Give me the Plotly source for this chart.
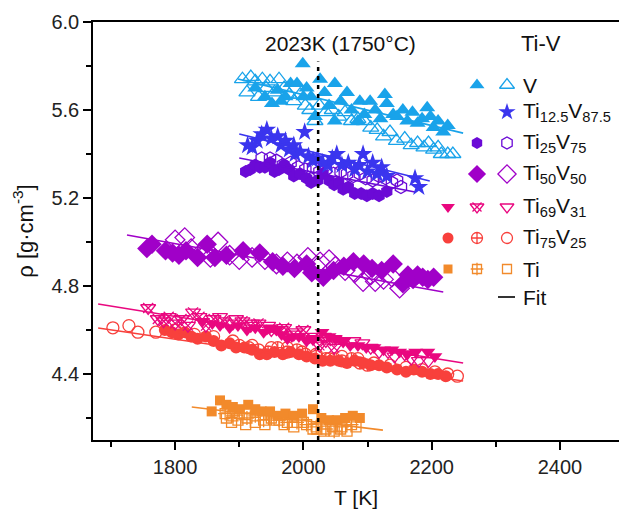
import plotly.graph_objects as go

# ---------------- data ----------------
V_filled_T = [1925, 1940, 1951, 1960, 1972, 1980, 1990, 1999, 2005, 2012, 2018, 2026, 2033, 2040, 2049, 2049,
              2058, 2068, 2075, 2088, 2095, 2104, 2112, 2120, 2127, 2130, 2140, 2146, 2155, 2162, 2170, 2178,
              2185, 2193, 2198, 2203, 2210, 2218, 2225, 1965, 2000, 2085]
V_filled_rho = [5.70, 5.66, 5.63, 5.69, 5.66, 5.72, 5.72, 5.81, 5.70, 5.66, 5.57, 5.74, 5.68, 5.62, 5.72, 5.55,
                5.64, 5.68, 5.60, 5.64, 5.58, 5.64, 5.60, 5.56, 5.67, 5.63, 5.58, 5.57, 5.60, 5.55, 5.59, 5.54,
                5.56, 5.61, 5.57, 5.52, 5.55, 5.50, 5.53, 5.64, 5.66, 5.55]
V_open_T = [1905, 1912, 1918, 1925, 1930, 1936, 1942, 1948, 1955, 1962, 1970, 1978, 1985, 1995, 2003, 2010,
            2018, 2025, 2035, 2045, 2055, 2065, 2075, 2085, 2095, 2105, 2115, 2125, 2135, 2145, 2158, 2168,
            2178, 2188, 2195, 2203, 2210, 2215, 2225, 2233]
V_open_rho = [5.74, 5.68, 5.75, 5.73, 5.66, 5.74, 5.70, 5.73, 5.68, 5.74, 5.70, 5.67, 5.64, 5.67, 5.62, 5.60,
              5.55, 5.62, 5.59, 5.60, 5.57, 5.59, 5.55, 5.56, 5.55, 5.52, 5.51, 5.48, 5.50, 5.46, 5.47, 5.44,
              5.45, 5.43, 5.45, 5.42, 5.43, 5.40, 5.40, 5.40]

Ti125_T = [1913, 1920, 1928, 1935, 1943, 1950, 1960, 1965, 1972, 1978, 1985, 1987, 1995, 2002, 2008, 2015,
           2022, 2030, 2038, 2045, 2052, 2060, 2070, 2080, 2087, 2093, 2100, 2108, 2115, 2122, 2130, 2174, 2180]
Ti125_rho = [5.44, 5.43, 5.46, 5.49, 5.51, 5.47, 5.48, 5.44, 5.46, 5.42, 5.44, 5.40, 5.41, 5.50, 5.39, 5.37,
             5.38, 5.36, 5.35, 5.38, 5.40, 5.35, 5.36, 5.33, 5.35, 5.40, 5.32, 5.36, 5.31, 5.34, 5.30, 5.29, 5.25]

Ti25_filled_T = [1910, 1917, 1925, 1932, 1940, 1948, 1955, 1962, 1970, 1978, 1985, 1995, 2005, 2012, 2022,
                 2030, 2040, 2048, 2055, 2062, 2070, 2080, 2090, 2099, 2108, 2118, 2130]
Ti25_filled_rho = [5.32, 5.33, 5.35, 5.34, 5.34, 5.36, 5.32, 5.33, 5.35, 5.33, 5.30, 5.31, 5.29, 5.27, 5.28,
                   5.31, 5.28, 5.26, 5.27, 5.24, 5.25, 5.22, 5.22, 5.21, 5.22, 5.21, 5.23]
Ti25_open_T = [1935, 1948, 1958, 1968, 1980, 1992, 2003, 2015, 2025, 2035, 2047, 2058, 2068, 2078, 2088,
               2097, 2108, 2118, 2128, 2138, 2146, 2152]
Ti25_open_rho = [5.38, 5.38, 5.37, 5.35, 5.36, 5.34, 5.33, 5.34, 5.32, 5.33, 5.31, 5.32, 5.31, 5.30, 5.31,
                 5.29, 5.28, 5.30, 5.29, 5.27, 5.28, 5.25]

Ti50_filled_T = [1756, 1764, 1785, 1796, 1806, 1817, 1835, 1850, 1862, 1880, 1906, 1932, 1952, 1968, 1986,
                 2005, 2013, 2031, 2047, 2063, 2078, 2094, 2107, 2122, 2140, 2155, 2163, 2171, 2178, 2186,
                 2194, 2203]
Ti50_filled_rho = [4.97, 4.99, 4.96, 4.95, 4.94, 4.96, 4.93, 4.99, 4.93, 4.94, 4.96, 4.95, 4.91, 4.89, 4.88,
                   4.90, 4.86, 4.84, 4.87, 4.89, 4.91, 4.90, 4.88, 4.87, 4.90, 4.81, 4.85, 4.83, 4.85, 4.84,
                   4.83, 4.84]
Ti50_open_T = [1800, 1815, 1825, 1840, 1855, 1867, 1885, 1900, 1920, 1940, 1958, 1975, 1990, 2007, 2026,
               2040, 2050, 2065, 2080, 2093, 2105, 2112, 2125, 2138, 2150]
Ti50_open_rho = [5.01, 5.02, 4.97, 4.95, 4.93, 5.00, 4.94, 4.92, 4.93, 4.92, 4.90, 4.91, 4.90, 4.93, 4.91,
                 4.92, 4.89, 4.87, 4.86, 4.82, 4.85, 4.82, 4.83, 4.84, 4.79]

Ti69_filled_T = [1843, 1858, 1870, 1885, 1898, 1912, 1925, 1938, 1948, 1958, 1966, 1975, 1982, 1993, 2005,
                 2015, 2029, 2040, 2050, 2062, 2073, 2085, 2098, 2110, 2125, 2138, 2150, 2162, 2175, 2194, 2205]
Ti69_filled_rho = [4.64, 4.63, 4.62, 4.61, 4.62, 4.60, 4.61, 4.59, 4.61, 4.60, 4.58, 4.56, 4.57, 4.57, 4.55,
                   4.56, 4.59, 4.57, 4.56, 4.55, 4.53, 4.53, 4.52, 4.52, 4.51, 4.51, 4.50, 4.49, 4.50, 4.50, 4.48]
Ti69_cross_T = [1758, 1773, 1782, 1790, 1800, 1810, 1820, 1828, 1838, 1848, 1860, 1875, 1890, 1905, 1918,
                1930, 1950, 1970, 1985, 2000, 2015, 2025, 2035, 2048]
Ti69_cross_rho = [4.70, 4.65, 4.64, 4.66, 4.63, 4.65, 4.62, 4.68, 4.66, 4.62, 4.65, 4.64, 4.63, 4.64, 4.62,
                  4.63, 4.60, 4.61, 4.58, 4.60, 4.56, 4.53, 4.55, 4.52]
Ti69_open_T = [1870, 1895, 1920, 1945, 1965, 1988, 2010, 2032, 2048, 2062, 2078, 2092, 2105, 2118, 2132,
               2142, 2158, 2168, 2180, 2195]
Ti69_open_rho = [4.66, 4.65, 4.63, 4.62, 4.60, 4.59, 4.57, 4.57, 4.56, 4.55, 4.55, 4.54, 4.52, 4.50, 4.50,
                 4.48, 4.49, 4.47, 4.46, 4.46]

Ti75_filled_T = [1784, 1795, 1805, 1815, 1825, 1835, 1848, 1860, 1872, 1885, 1895, 1908, 1920, 1932, 1943,
                 1955, 1968, 1980, 1993, 2005, 2018, 2030, 2042, 2055, 2068, 2080, 2093, 2105, 2118, 2130,
                 2146, 2160, 2172, 2185, 2198, 2210, 2222]
Ti75_filled_rho = [4.60, 4.59, 4.58, 4.59, 4.57, 4.56, 4.57, 4.55, 4.53, 4.54, 4.52, 4.52, 4.51, 4.49, 4.49,
                   4.50, 4.49, 4.50, 4.49, 4.48, 4.47, 4.46, 4.46, 4.46, 4.45, 4.46, 4.45, 4.44, 4.44, 4.43,
                   4.42, 4.41, 4.42, 4.41, 4.40, 4.40, 4.39]
Ti75_cross_T = [1900, 1915, 1930, 1945, 1960, 1975, 1990, 2003, 2020, 2035, 2048, 2060, 2075, 2088, 2100]
Ti75_cross_rho = [4.53, 4.52, 4.51, 4.50, 4.52, 4.50, 4.51, 4.49, 4.48, 4.47, 4.47, 4.46, 4.47, 4.45, 4.44]
Ti75_open_T = [1703, 1728, 1742, 1770, 1800, 1830, 1860, 1890, 1920, 1950, 1975, 1998, 2020, 2040, 2060,
               2085, 2110, 2135, 2160, 2185, 2205, 2225, 2240]
Ti75_open_rho = [4.61, 4.62, 4.59, 4.59, 4.60, 4.58, 4.57, 4.55, 4.53, 4.52, 4.52, 4.50, 4.49, 4.47, 4.48,
                 4.47, 4.45, 4.44, 4.43, 4.42, 4.41, 4.40, 4.39]

Ti_filled_T = [1857, 1870, 1880, 1890, 1900, 1914, 1925, 1935, 1948, 1960, 1972, 1985, 1998, 2015, 2028,
               2040, 2052, 2065, 2077, 2088]
Ti_filled_rho = [4.23, 4.28, 4.26, 4.25, 4.24, 4.26, 4.24, 4.23, 4.23, 4.21, 4.22, 4.21, 4.22, 4.24, 4.20,
                 4.19, 4.19, 4.20, 4.21, 4.20]
Ti_cross_T = [1878, 1890, 1900, 1912, 1925, 1938, 1950, 1962, 1975, 1990, 2005, 2020, 2035, 2048, 2060, 2075]
Ti_cross_rho = [4.22, 4.21, 4.22, 4.20, 4.21, 4.19, 4.20, 4.19, 4.18, 4.18, 4.17, 4.16, 4.15, 4.14, 4.16, 4.17]
Ti_open_T = [1880, 1888, 1898, 1910, 1925, 1940, 1955, 1970, 1985, 2000, 2015, 2021, 2032, 2045, 2058, 2068, 2082]
Ti_open_rho = [4.20, 4.18, 4.19, 4.17, 4.18, 4.17, 4.19, 4.17, 4.16, 4.18, 4.15, 4.15, 4.14, 4.16, 4.15, 4.14, 4.16]

# linear fits: [T_start, T_end], [rho_start, rho_end]
fit_V = ([1898, 2249], [5.741, 5.495])
fit_Ti125 = ([1900, 2197], [5.491, 5.277])
fit_Ti25 = ([1900, 2174], [5.382, 5.227])
fit_Ti50 = ([1725, 2218], [5.032, 4.773])
fit_Ti69 = ([1680, 2249], [4.718, 4.450])
fit_Ti75 = ([1680, 2249], [4.609, 4.368])
fit_Ti = ([1826, 2124], [4.250, 4.145])

T_melt = 2023
legend_labels = ["V", "Ti<sub>12.5</sub>V<sub>87.5</sub>", "Ti<sub>25</sub>V<sub>75</sub>",
                 "Ti<sub>50</sub>V<sub>50</sub>", "Ti<sub>69</sub>V<sub>31</sub>",
                 "Ti<sub>75</sub>V<sub>25</sub>", "Ti", "Fit"]

# ---------------- styling ----------------
C_V = "#19A3EA"
C_125 = "#3A35EE"
C_25 = "#6B0AD6"
C_50 = "#A000C8"
C_69 = "#E9077F"
C_75 = "#F8403C"
C_Ti = "#F28A2B"
FONT = "Liberation Sans, Arial, sans-serif"

fig = go.Figure()


def pts(T, r, color, symbol, size, lw=1.3):
    fig.add_trace(go.Scatter(x=T, y=r, mode="markers", cliponaxis=False,
                             marker=dict(symbol=symbol, size=size, color=color,
                                         line=dict(color=color, width=lw))))


def fit(f, color):
    fig.add_trace(go.Scatter(x=f[0], y=f[1], mode="lines", line=dict(color=color, width=1.6)))


# Ti
pts(Ti_open_T, Ti_open_rho, C_Ti, "square-open", 10)
pts(Ti_cross_T, Ti_cross_rho, C_Ti, "square-open", 10)
pts(Ti_cross_T, Ti_cross_rho, C_Ti, "cross-thin-open", 10)
pts(Ti_filled_T, Ti_filled_rho, C_Ti, "square", 10, 0)
fit(fit_Ti, C_Ti)
# Ti75V25
pts(Ti75_open_T, Ti75_open_rho, C_75, "circle-open", 12)
pts(Ti75_cross_T, Ti75_cross_rho, C_75, "circle-cross-open", 12)
pts(Ti75_filled_T, Ti75_filled_rho, C_75, "circle", 12, 0)
fit(fit_Ti75, C_75)
# Ti69V31
pts(Ti69_open_T, Ti69_open_rho, C_69, "triangle-down-open", 13)
pts(Ti69_cross_T, Ti69_cross_rho, C_69, "triangle-down-open", 13)
pts(Ti69_cross_T, Ti69_cross_rho, C_69, "x-thin-open", 10)
pts(Ti69_filled_T, Ti69_filled_rho, C_69, "triangle-down", 13, 0)
fit(fit_Ti69, C_69)
# Ti50V50
pts(Ti50_open_T, Ti50_open_rho, C_50, "diamond-open", 15)
pts(Ti50_filled_T, Ti50_filled_rho, C_50, "diamond", 15, 0)
fit(fit_Ti50, C_50)
# Ti25V75
pts(Ti25_open_T, Ti25_open_rho, C_25, "hexagon-open", 13)
pts(Ti25_filled_T, Ti25_filled_rho, C_25, "hexagon", 13, 0)
fit(fit_Ti25, C_25)
# Ti12.5V87.5
pts(Ti125_T, Ti125_rho, C_125, "star", 14, 0)
fit(fit_Ti125, C_125)
# V
pts(V_open_T, V_open_rho, C_V, "triangle-up-open", 14)
pts(V_filled_T, V_filled_rho, C_V, "triangle-up", 14, 0)
fit(fit_V, C_V)

# ---------------- custom legend (pixel coordinates on an overlay axis) ----------------
rows = [85, 112, 143, 174, 207, 238, 269, 297]
c1, c2, c3 = 448, 477, 507
leg = [
    (c2, rows[0], C_V, "triangle-up", 13), (c3, rows[0], C_V, "triangle-up-open", 13),
    (c3, rows[1], C_125, "star", 13),
    (c2, rows[2], C_25, "hexagon", 12), (c3, rows[2], C_25, "hexagon-open", 12),
    (c2, rows[3], C_50, "diamond", 14), (c3, rows[3], C_50, "diamond-open", 14),
    (c1, rows[4], C_69, "triangle-down", 12), (c2, rows[4], C_69, "triangle-down-open", 12),
    (c2, rows[4], C_69, "x-thin-open", 9), (c3, rows[4], C_69, "triangle-down-open", 12),
    (c1, rows[5], C_75, "circle", 11), (c2, rows[5], C_75, "circle-cross-open", 11),
    (c3, rows[5], C_75, "circle-open", 11),
    (c1, rows[6], C_Ti, "square", 9), (c2, rows[6], C_Ti, "square-open", 9),
    (c2, rows[6], C_Ti, "cross-thin-open", 9), (c3, rows[6], C_Ti, "square-open", 9),
]
for x, y, col, sym, s in leg:
    filled = not sym.endswith("open")
    fig.add_trace(go.Scatter(x=[x], y=[y], xaxis="x2", yaxis="y2", mode="markers", cliponaxis=False,
                             marker=dict(symbol=sym, size=s, color=col,
                                         line=dict(color=col, width=0 if filled else 1.3))))
fig.add_trace(go.Scatter(x=[498, 515], y=[rows[7], rows[7]], xaxis="x2", yaxis="y2", mode="lines",
                         line=dict(color="black", width=1.6)))

annotations = []
for lab, y in zip(legend_labels, rows):
    annotations.append(dict(x=521, y=y, xref="x2", yref="y2", text=lab, showarrow=False,
                            xanchor="left", yanchor="middle", font=dict(family=FONT, size=21, color="#111")))
annotations.append(dict(x=541, y=43, xref="x2", yref="y2", text="Ti-V", showarrow=False,
                        xanchor="center", yanchor="middle", font=dict(family=FONT, size=22, color="#111")))
annotations.append(dict(x=340, y=43, xref="x2", yref="y2", text="2023K (1750°C)", showarrow=False,
                        xanchor="center", yanchor="middle", font=dict(family=FONT, size=21, color="#111")))

fig.add_shape(type="line", xref="x", yref="y", x0=T_melt, x1=T_melt, y0=4.1, y1=5.82,
              line=dict(color="black", width=2.5, dash="4px,5px"))

axis_common = dict(showline=True, linecolor="black", linewidth=1.5, ticks="outside", ticklen=8,
                   tickwidth=1.5, tickcolor="black", showgrid=False, zeroline=False,
                   tickfont=dict(family=FONT, size=20, color="#222"))

fig.update_layout(
    width=619, height=518, margin=dict(l=93, r=0, t=22, b=78),
    plot_bgcolor="white", paper_bgcolor="white", showlegend=False,
    xaxis=dict(range=[1672, 2492], tickmode="linear", tick0=1800, dtick=200, mirror=True,
               minor=dict(tick0=1700, dtick=100, ticklen=5, tickwidth=1.5, tickcolor="black", ticks="outside"),
               title=dict(text="T [K]", font=dict(family=FONT, size=21, color="#111"), standoff=14),
               **axis_common),
    yaxis=dict(range=[4.1, 6.0], tickmode="linear", tick0=4.4, dtick=0.4, tickformat=".1f",
               minor=dict(tick0=4.2, dtick=0.2, ticklen=5, tickwidth=1.5, tickcolor="black", ticks="outside"),
               title=dict(text="ρ [g·cm<sup>-3</sup>]", font=dict(family=FONT, size=22, color="#111"), standoff=12),
               **axis_common),
    xaxis2=dict(range=[93, 619], overlaying="x", anchor="y2", visible=False),
    yaxis2=dict(range=[440, 22], overlaying="y", anchor="x2", visible=False),
    annotations=annotations,
)

fig.write_html("out.html")
